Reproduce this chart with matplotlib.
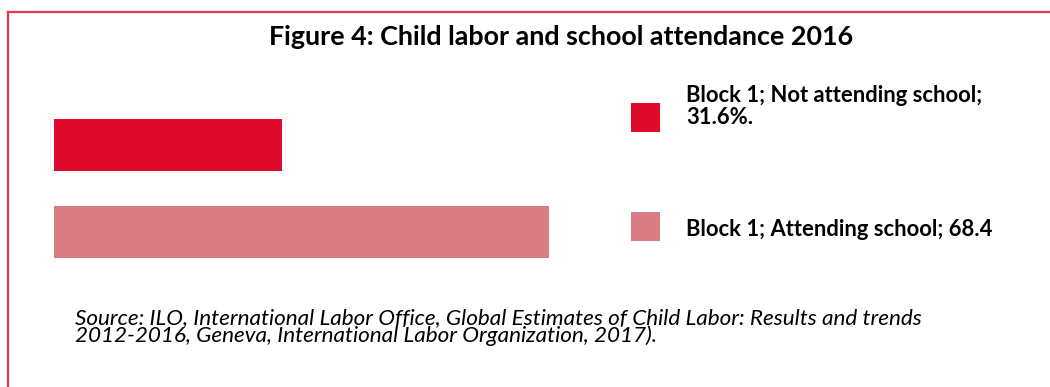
import matplotlib
matplotlib.use("Agg")
import matplotlib.pyplot as plt
from matplotlib.patches import Rectangle
from matplotlib.lines import Line2D

# Data
categories = ["Attending school", "Not attending school"]
values = [68.4, 31.6]
bar_colors = ["#D97D85", "#E00A2B"]
title = "Figure 4: Child labor and school attendance 2016"
source_lines = [
    "Source: ILO, International Labor Office, Global Estimates of Child Labor: Results and trends",
    "2012-2016, Geneva, International Labor Organization, 2017).",
]

W, H, DPI = 1050, 387, 100
fig = plt.figure(figsize=(W / DPI, H / DPI), dpi=DPI)
fig.patch.set_facecolor("white")


def fx(px):
    return px / W


def fy(py):
    return 1 - py / H


FONT = "Lato"

# Frame lines (top and left)
frame_color = "#E23B50"
fig.add_artist(Line2D([fx(7.5), 1.0], [fy(11.5), fy(11.5)], color=frame_color,
                      linewidth=1.6, transform=fig.transFigure))
fig.add_artist(Line2D([fx(7.5), fx(7.5)], [fy(11.5), 0.0], color=frame_color,
                      linewidth=1.6, transform=fig.transFigure))

# Bars
ax_left, ax_right = 54, 632
ax_top, ax_bottom = 101.2, 275.2
ax = fig.add_axes([fx(ax_left), fy(ax_bottom), fx(ax_right - ax_left),
                   (ax_bottom - ax_top) / H])
ypos = list(range(len(categories)))
ax.barh(ypos, values, height=0.6, color=bar_colors)
ax.set_xlim(0, (ax_right - ax_left) / 7.23)
ax.set_ylim(-0.5, 1.5)
ax.axis("off")

# Title
fig.text(fx(561), fy(45), title, ha="center", va="baseline",
         fontsize=19.4, fontweight="bold", family=FONT, color="black")

# Legend (multi-line labels are anchored on the baseline of their last line)
legend_labels = [
    f"Block 1; {categories[1]};\n{values[1]:.1f}%.",
    f"Block 1; {categories[0]}; {values[0]:.1f}",
]
legend_colors = [bar_colors[1], bar_colors[0]]
swatch_tops = [103, 211.7]
text_baselines = [124, 235.7]
for label, col, top, b in zip(legend_labels, legend_colors, swatch_tops, text_baselines):
    fig.add_artist(Rectangle((fx(631), fy(top + 29)), fx(29), 29 / H,
                             facecolor=col, edgecolor="none",
                             transform=fig.transFigure))
    fig.text(fx(686), fy(b), label, ha="left", va="baseline", linespacing=1.05,
             fontsize=15.8, fontweight="bold", family=FONT, color="black")

# Source note
fig.text(fx(75), fy(341.7), "\n".join(source_lines), ha="left", va="baseline",
         linespacing=0.8, fontsize=16.2, fontstyle="italic", family=FONT,
         color="black")

fig.savefig("out.png", dpi=DPI, facecolor="white")
